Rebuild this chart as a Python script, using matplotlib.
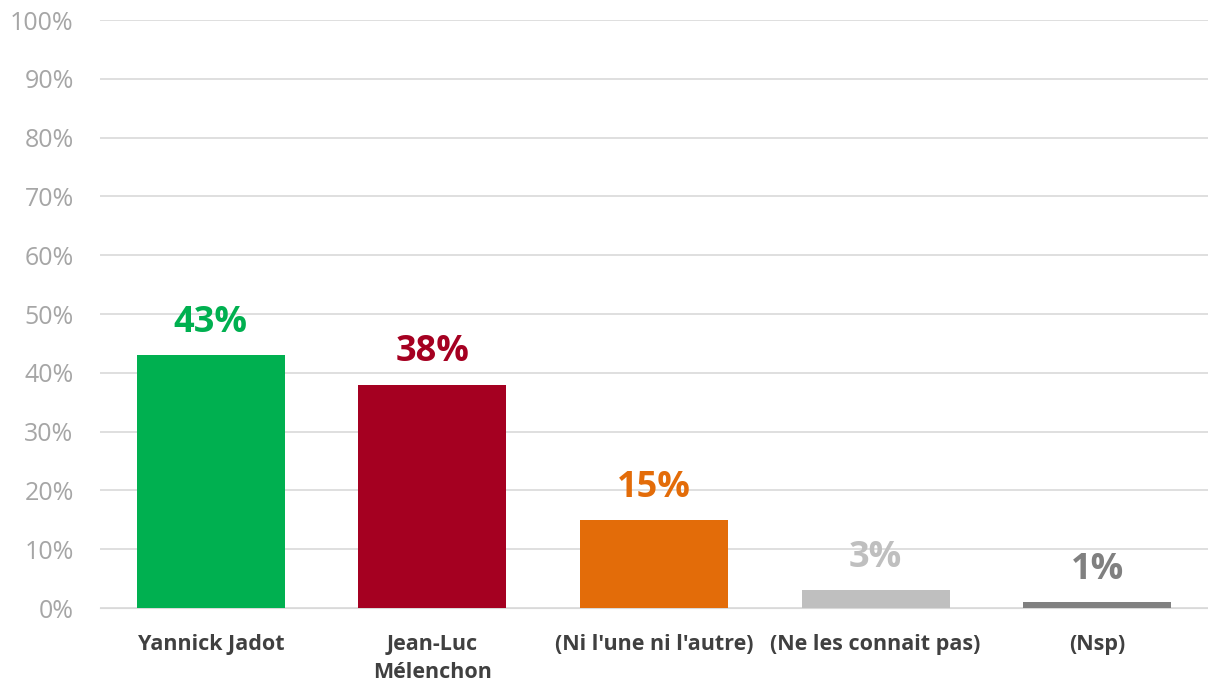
import numpy as np
import matplotlib
matplotlib.use('Agg')
import matplotlib.pyplot as plt
from matplotlib.ticker import FuncFormatter

# données
categories = ["Yannick Jadot", "Jean-Luc\nMélenchon", "(Ni l'une ni l'autre)",
              "(Ne les connait pas)", "(Nsp)"]
values = [43, 38, 15, 3, 1]
colors = ['#00B050', '#A50021', '#E36C09', '#BFBFBF', '#808080']

plt.rcParams['font.family'] = ['Open Sans', 'DejaVu Sans']

fig = plt.figure(figsize=(12.08, 6.85), dpi=100)
ax = fig.add_axes([0.0828, 0.1124, 0.9172, 0.8584])

x = np.arange(len(categories))
ax.bar(x, values, width=0.668, color=colors, zorder=3)

for xi, v, c in zip(x, values, colors):
    ax.text(xi, v + 2.4, f"{v}%", ha='center', va='bottom', color=c,
            fontsize=26, fontweight='bold')

ax.set_xlim(-0.5, 4.5)
ax.set_ylim(0, 100)
ax.set_yticks(np.arange(0, 101, 10))
ax.yaxis.set_major_formatter(FuncFormatter(lambda v, p: f"{int(v)}%"))
ax.grid(axis='y', color='#D9D9D9', linewidth=1.2, zorder=0)
ax.set_xticks(x)
ax.set_xticklabels(categories, fontsize=15.5, fontweight='bold', color='#404040',
                   linespacing=1.4)
ax.tick_params(axis='y', labelsize=18, labelcolor='#A6A6A6', length=0, pad=19)
ax.tick_params(axis='x', length=0, pad=19)
for s in ax.spines.values():
    s.set_visible(False)
ax.spines['bottom'].set_visible(True)
ax.spines['bottom'].set_color('#D9D9D9')

plt.savefig('out.png', dpi=100)
plt.close()
